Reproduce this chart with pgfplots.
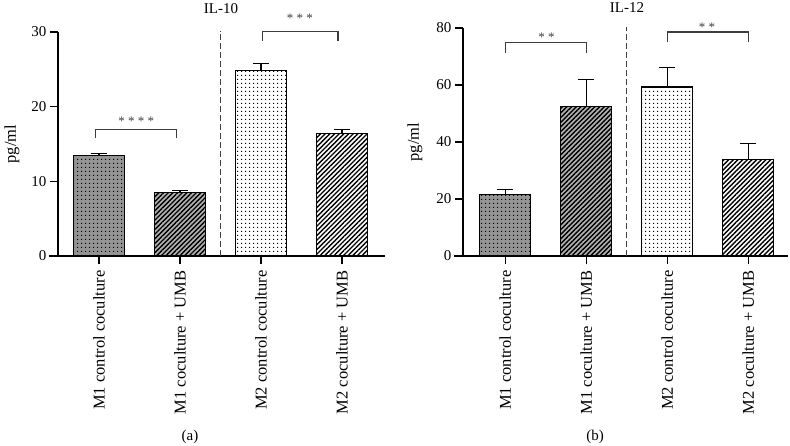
\documentclass[border=0pt]{standalone}
\usepackage{fontspec}
\setmainfont{Liberation Serif}
\usepackage{pgfplots}
\pgfplotsset{compat=1.18}
\usetikzlibrary{patterns,patterns.meta}
\tikzdeclarepattern{name=sqdots, type=uncolored, bounding box={(0pt,0pt) and (4pt,4pt)}, tile size={(4pt,4pt)},
  code={\pgfpathrectangle{\pgfpoint{1.35pt}{1.35pt}}{\pgfpoint{1.3pt}{1.3pt}}\pgfusepath{fill}}}
\definecolor{brkc}{RGB}{60,60,60}
\pgfplotsset{
  panel/.style={
    scale only axis, clip=false,
    axis x line*=bottom, axis y line*=left,
    axis line style={-, line width=1.2pt, black},
    x axis line style={shorten <=-9pt},
    tick align=outside, major tick length=8pt,
    tick style={line width=1.2pt, black},
    xtick={0,1,2,3},
    xticklabels={M1 control coculture, M1 coculture + UMB, M2 control coculture, M2 coculture + UMB},
    xticklabel style={rotate=90, anchor=east, font=\fontsize{16.5}{17}\selectfont},
    xticklabel shift=3pt,
    yticklabel style={font=\fontsize{15}{15}\selectfont},
    /pgf/number format/assume math mode=true,
    ylabel={pg/ml}, ylabel style={font=\fontsize{16.5}{17}\selectfont},
  },
  barb/.style={ybar, bar shift=0pt, bar width=51pt, draw=black, line width=1.2pt,
    error bars/y dir=plus, error bars/y explicit,
    error bars/error bar style={line width=1.2pt, black},
    error bars/error mark options={rotate=90, black, line width=1.2pt, mark size=8pt}},
  b1/.style={barb, fill=black!42, postaction={pattern=sqdots, pattern color=black}},
  b2/.style={barb, fill=black!30, postaction={pattern={Lines[angle=45,distance=3.3pt,line width=1.4pt]}, pattern color=black}},
  b3/.style={barb, fill=white, postaction={pattern=sqdots, pattern color=black}},
  b4/.style={barb, fill=white, postaction={pattern={Lines[angle=45,distance=3.3pt,line width=1.4pt]}, pattern color=black}},
  brkline/.style={brkc, line width=1.2pt, mark=none, sharp plot},
}
\begin{document}
\begin{tikzpicture}[x=1pt,y=1pt]
\useasboundingbox (0pt,0pt) rectangle (790pt,445pt);
\begin{axis}[panel, at={(58pt,189pt)}, anchor=south west, width=327pt, height=224pt,
  xmin=-0.506, xmax=3.53, ymin=0, ymax=30, ytick={0,10,20,30},
  ylabel style={at={(axis description cs:-0.141,0.5)}, anchor=center}]
\addplot[b1] coordinates {(0,13.5) +- (0,0.2)};
\addplot[b2] coordinates {(1,8.55) +- (0,0.25)};
\addplot[b3] coordinates {(2,24.8) +- (0,1.0)};
\addplot[b4] coordinates {(3,16.45) +- (0,0.5)};
\addplot[black!75, line width=1pt, dash pattern=on 6pt off 3pt, mark=none] coordinates {(1.5,0) (1.5,30.2)};
\addplot[brkline] coordinates {(-0.04,15.8) (-0.04,16.9) (0.96,16.9) (0.96,15.8)};
\addplot[brkline] coordinates {(2.02,28.8) (2.02,30.1) (2.95,30.1) (2.95,28.8)};
\node[font=\fontsize{13}{13}\selectfont, text=brkc] at (axis cs:0.46,18.1) {* * * *};
\node[font=\fontsize{13}{13}\selectfont, text=brkc] at (axis cs:2.48,31.9) {* * *};
\end{axis}
\begin{axis}[panel, at={(463pt,189pt)}, anchor=south west, width=325pt, height=228pt,
  xmin=-0.52, xmax=3.49, ymin=0, ymax=80, ytick={0,20,40,60,80},
  ylabel style={at={(axis description cs:-0.148,0.5)}, anchor=center}]
\addplot[b1] coordinates {(0,21.6) +- (0,1.8)};
\addplot[b2] coordinates {(1,52.4) +- (0,9.4)};
\addplot[b3] coordinates {(2,59.3) +- (0,6.9)};
\addplot[b4] coordinates {(3,34.0) +- (0,5.4)};
\addplot[black!75, line width=1pt, dash pattern=on 6pt off 3pt, mark=none] coordinates {(1.5,0) (1.5,80.4)};
\addplot[brkline] coordinates {(0,71.4) (0,74.8) (1,74.8) (1,71.4)};
\addplot[brkline] coordinates {(2,75.2) (2,78.6) (3,78.6) (3,75.2)};
\node[font=\fontsize{13}{13}\selectfont, text=brkc] at (axis cs:0.51,76.8) {* *};
\node[font=\fontsize{13}{13}\selectfont, text=brkc] at (axis cs:2.49,80.4) {* *};
\end{axis}
\node[font=\fontsize{15}{15}\selectfont] at (221pt,436pt) {IL-10};
\node[font=\fontsize{15}{15}\selectfont] at (627pt,437pt) {IL-12};
\node[font=\fontsize{15}{15}\selectfont] at (190pt,8pt) {(a)};
\node[font=\fontsize{15}{15}\selectfont] at (595pt,8pt) {(b)};
\end{tikzpicture}
\end{document}
